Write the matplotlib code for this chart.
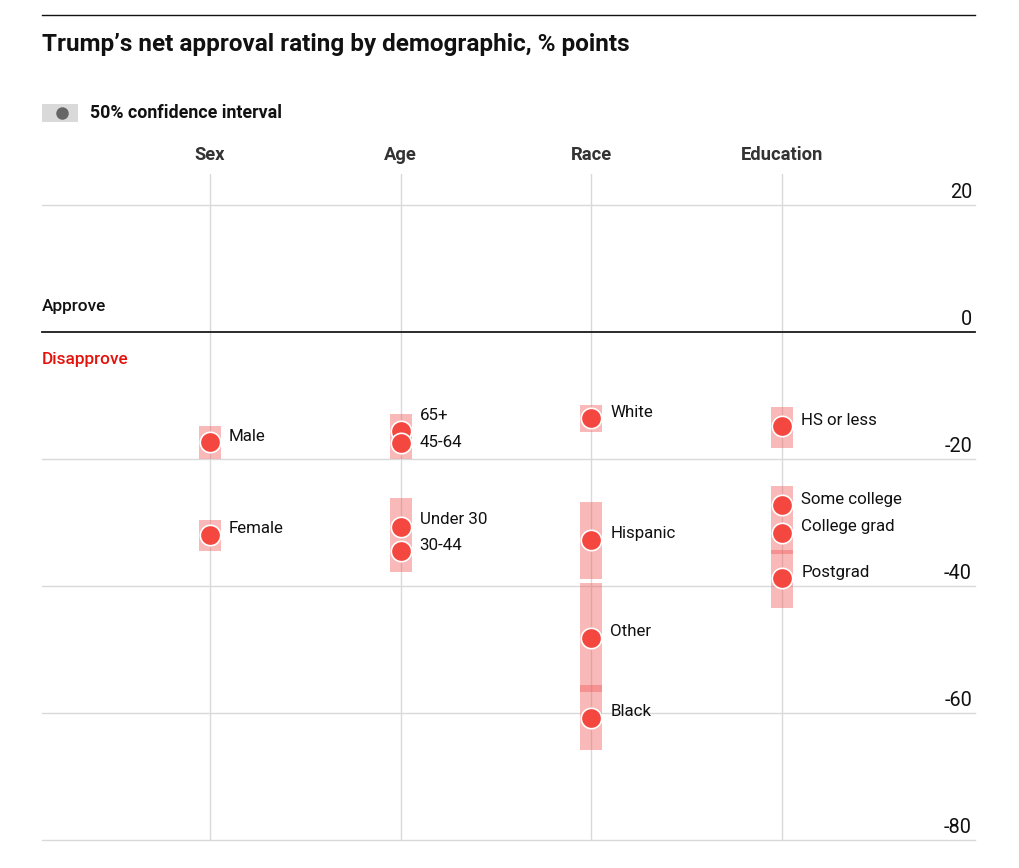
import matplotlib.pyplot as plt
from matplotlib.lines import Line2D
from matplotlib.patches import Rectangle
from matplotlib.transforms import blended_transform_factory

plt.rcParams['font.family'] = ['Roboto', 'DejaVu Sans']

# ---- data (net approval, % points) ----
groups = ['Sex', 'Age', 'Race', 'Education']

labels = ['Male', 'Female',
          '65+', '45-64', 'Under 30', '30-44',
          'White', 'Hispanic', 'Other', 'Black',
          'HS or less', 'Some college', 'College grad', 'Postgrad']
label_group = [0, 0,
               1, 1, 1, 1,
               2, 2, 2, 2,
               3, 3, 3, 3]
net_approval = [-17.3, -31.9,
                -15.5, -17.4, -30.7, -34.4,
                -13.5, -32.7, -48.1, -60.7,
                -14.8, -27.2, -31.6, -38.7]

# 50% confidence interval bands (group, low, high)
band_group = [0, 0, 1, 1, 2, 2, 2, 2, 3, 3, 3]
band_low = [-20.0, -34.4, -20.0, -37.7, -15.7, -38.8, -56.6, -65.8, -18.2, -34.9, -43.4]
band_high = [-14.8, -29.6, -12.9, -26.1, -11.4, -26.7, -39.5, -55.5, -11.8, -24.2, -34.3]

y_ticks = [20, 0, -20, -40, -60, -80]

# ---- styling ----
RED = '#f4473f'
BAND = '#f15a5a'
GRID = '#d9d9d9'
W, H = 1020, 868
PT = 0.72  # px -> pt

fig = plt.figure(figsize=(W / 100, H / 100), dpi=100)
ax = fig.add_axes([42 / W, 1 - 840.3 / H, (975 - 42) / W, (840.3 - 173.6) / H])
ax.set_xlim(-0.881, 4.011)
ax.set_ylim(-80, 25)
ax.axis('off')
ytrans = blended_transform_factory(ax.transAxes, ax.transData)

# gridlines
for t in y_ticks:
    if t == 0:
        ax.axhline(0, color='#1a1a1a', lw=1.3, zorder=1, clip_on=False)
    else:
        ax.axhline(t, color=GRID, lw=1.0, zorder=0, clip_on=False)
    ax.annotate(str(t), xy=(1, t), xycoords=ytrans,
                xytext=(-3 * PT, 3 * PT), textcoords='offset points', ha='right', va='bottom',
                fontsize=14.3, color='#111111')
for i in range(len(groups)):
    ax.axvline(i, color=GRID, lw=1.0, zorder=0)

# confidence bands
bw = 0.115
for g, lo, hi in zip(band_group, band_low, band_high):
    ax.add_patch(Rectangle((g - bw / 2, lo), bw, hi - lo, facecolor=BAND, alpha=0.42,
                           edgecolor='none', zorder=2))

# dots
ax.scatter(label_group, net_approval, s=215, color=RED, edgecolor='white', linewidth=1.2, zorder=3)

# point labels (nudged up a little, in px)
nudge = {'65+': 15, '45-64': 0, 'Under 30': 8, '30-44': 5}
for lab, g, v in zip(labels, label_group, net_approval):
    dy = nudge.get(lab, 6)
    ax.annotate(lab, xy=(g, v), xytext=(19 * PT, dy * PT), textcoords='offset points',
                ha='left', va='center', fontsize=12.2, color='#111111', zorder=4)

# approve / disapprove
ax.annotate('Approve', xy=(0, 0), xycoords=ytrans,
            xytext=(0, 26 * PT), textcoords='offset points', ha='left', va='center',
            fontsize=12.4, color='#111111', fontweight='medium')
ax.annotate('Disapprove', xy=(0, 0), xycoords=ytrans,
            xytext=(0, -27 * PT), textcoords='offset points', ha='left', va='center',
            fontsize=12.4, color='#e3120b', fontweight='medium')

# group headers
for i, g in enumerate(groups):
    ax.annotate(g, xy=(i, 25), xytext=(0, 19 * PT), textcoords='offset points',
                ha='center', va='center', fontsize=13.2, fontweight='bold', color='#333333')

# top rule and title
fig.add_artist(Line2D([42 / W, 975 / W], [1 - 15 / H, 1 - 15 / H], color='#111111', lw=1.0))
fig.text(42 / W, 1 - 44 / H, 'Trump’s net approval rating by demographic, % points',
         ha='left', va='center', fontsize=17.5, fontweight='bold', color='#111111')

# legend
fig.add_artist(Rectangle((42 / W, 1 - 122 / H), 36 / W, 18 / H, transform=fig.transFigure,
                         facecolor='#d9d9d9', edgecolor='none'))
fig.add_artist(Line2D([62 / W], [1 - 113 / H], marker='o', markersize=9, color='#666666',
                      markeredgewidth=0))
fig.text(90 / W, 1 - 113 / H, '50% confidence interval', ha='left', va='center',
         fontsize=12.8, fontweight='bold', color='#111111')

fig.savefig('out.png', dpi=100)
